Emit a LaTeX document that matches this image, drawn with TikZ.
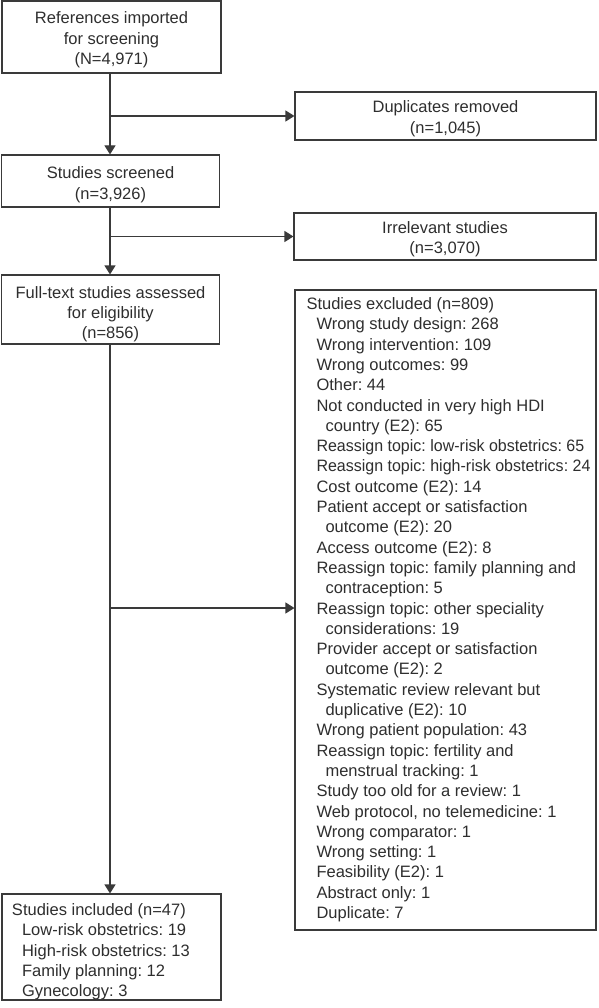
\documentclass[tikz,border=0pt]{standalone}
\usepackage{fontspec}
\setmainfont{Liberation Sans}
\usetikzlibrary{arrows.meta}
\definecolor{ln}{HTML}{3A3A3A}
\definecolor{tx}{HTML}{2E2E2E}
\newcommand\dn[2]{\raisebox{-#1}[\height][\depth]{#2}}
\newcommand\ctr[1]{\begin{tabular}{@{}c@{}}#1\end{tabular}}
\newcommand\lft[2]{\makebox[#1][l]{\begin{tabular}{@{}l@{}}#2\end{tabular}}}
\newcommand\sq[1]{\scalebox{0.97}[1]{#1}}
\begin{document}
\begin{tikzpicture}[x=1pt,y=-1pt,
  box/.style={draw=ln, line width=1.1pt, text=tx, inner sep=0pt,
    font=\fontsize{16.5}{20.3}\selectfont\frenchspacing},
  conn/.style={draw=ln, line width=1.1pt},
  arr/.style={conn, -{Triangle[length=9pt,width=11pt]}}]
\useasboundingbox (0,0) rectangle (598,1008);
\node[box, minimum width=219pt, minimum height=72pt] (ref) at (111.5,37)
  {\dn{3pt}{\ctr{References imported\\for screening\\(N=4,971)}}};
\node[box, minimum width=301pt, minimum height=48pt] (dup) at (445.5,116)
  {\dn{3pt}{\ctr{Duplicates removed\\(n=1,045)}}};
\node[box, minimum width=218pt, minimum height=52pt] (scr) at (110.5,181)
  {\dn{4pt}{\ctr{Studies screened\\(n=3,926)}}};
\node[box, minimum width=302pt, minimum height=47pt] (irr) at (445,236.5)
  {\dn{3pt}{\ctr{Irrelevant studies\\(n=3,070)}}};
\node[box, minimum width=218pt, minimum height=69pt] (ful) at (110.5,309.5)
  {\dn{5pt}{\ctr{Full-text studies assessed\\for eligibility\\(n=856)}}};
\node[box, inner xsep=5.5pt, minimum width=301pt, minimum height=640pt] (exc) at (445.5,610)
  {\lft{290pt}{%
   \hspace*{6pt}Studies excluded (n=809)\\
   \hspace*{16pt}Wrong study design: 268\\
   \hspace*{16pt}Wrong intervention: 109\\
   \hspace*{16pt}Wrong outcomes: 99\\
   \hspace*{16pt}Other: 44\\
   \hspace*{16pt}Not conducted in very high HDI\\
   \hspace*{25pt}country (E2): 65\\
   \hspace*{16pt}\sq{Reassign topic: low-risk obstetrics: 65}\\
   \hspace*{16pt}\sq{Reassign topic: high-risk obstetrics: 24}\\
   \hspace*{16pt}Cost outcome (E2): 14\\
   \hspace*{16pt}Patient accept or satisfaction\\
   \hspace*{25pt}outcome (E2): 20\\
   \hspace*{16pt}Access outcome (E2): 8\\
   \hspace*{16pt}Reassign topic: family planning and\\
   \hspace*{25pt}contraception: 5\\
   \hspace*{16pt}Reassign topic: other speciality\\
   \hspace*{25pt}considerations: 19\\
   \hspace*{16pt}Provider accept or satisfaction\\
   \hspace*{25pt}outcome (E2): 2\\
   \hspace*{16pt}Systematic review relevant but\\
   \hspace*{25pt}duplicative (E2): 10\\
   \hspace*{16pt}Wrong patient population: 43\\
   \hspace*{16pt}Reassign topic: fertility and\\
   \hspace*{25pt}menstrual tracking: 1\\
   \hspace*{16pt}Study too old for a review: 1\\
   \hspace*{16pt}Web protocol, no telemedicine: 1\\
   \hspace*{16pt}Wrong comparator: 1\\
   \hspace*{16pt}Wrong setting: 1\\
   \hspace*{16pt}Feasibility (E2): 1\\
   \hspace*{16pt}Abstract only: 1\\
   \hspace*{16pt}Duplicate: 7}};
\node[box, inner xsep=10pt, minimum width=219pt, minimum height=106pt] (inc) at (111.5,947)
  {\dn{5pt}{\lft{199pt}{%
   Studies included (n=47)\\
   \hspace*{10pt}Low-risk obstetrics: 19\\
   \hspace*{10pt}High-risk obstetrics: 13\\
   \hspace*{10pt}Family planning: 12\\
   \hspace*{10pt}Gynecology: 3}}};
\coordinate (j1) at (110,116);
\coordinate (j2) at (110,236.5);
\coordinate (j3) at (110,608);
\draw[arr] (ref.south -| j1) -- (scr.north -| j1);
\draw[arr] (j1) -- (j1 -| dup.west);
\draw[arr] (scr.south -| j2) -- (ful.north -| j2);
\draw[arr] (j2) -- (j2 -| irr.west);
\draw[arr] (ful.south -| j3) -- (inc.north -| j3);
\draw[arr] (j3) -- (j3 -| exc.west);
\end{tikzpicture}
\end{document}
